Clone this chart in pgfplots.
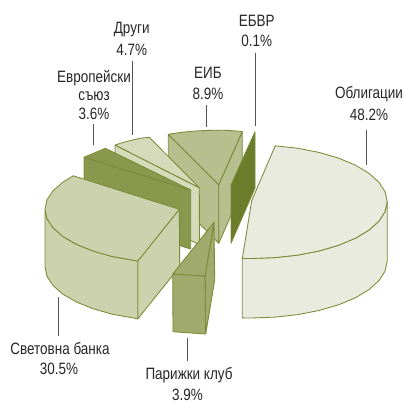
\documentclass[border=0pt]{standalone}
\usepackage{fontspec}
\setmainfont[FakeStretch=0.82]{Liberation Sans}
\usepackage{pgfplots}
\pgfplotsset{compat=1.18}
\definecolor{edge}{HTML}{7A8A35}
\definecolor{bonds}{HTML}{E9EBDF}
\definecolor{world}{HTML}{CCD2AE}
\definecolor{eu}{HTML}{8A984E}
\definecolor{other}{HTML}{D5DABB}
\definecolor{eib}{HTML}{B7BF8F}
\definecolor{paris}{HTML}{A0AA6C}
\definecolor{ebrd}{HTML}{6B7D2A}
\definecolor{leader}{HTML}{555555}
\pgfplotsset{
 face/.style={draw=edge,line width=0.85bp,line join=round,fill=#1,mark=none},
 lead/.style={draw=leader,line width=0.9bp,mark=none},
}
\newcommand{\lab}[3]{\node[font=\fontsize{16.5}{18}\selectfont,text=black!85,inner sep=0pt] at (axis cs:#1,#2) {#3};}
\begin{document}
\begin{tikzpicture}
\begin{axis}[scale only axis,width=404bp,height=403bp,xmin=0,xmax=404,ymin=0,ymax=403,y dir=reverse,hide axis,clip=false]
% keeps the page at the full frame
\addplot[draw=none,mark=none] coordinates {(0,0)(404,403)};
% leader lines
\addplot[lead] coordinates {(255.7,53)(255.7,126)};
\addplot[lead] coordinates {(206.7,105)(206.7,127)};
\addplot[lead] coordinates {(132.3,61)(132.3,135)};
\addplot[lead] coordinates {(93.3,124)(93.3,145)};
\addplot[lead] coordinates {(58.3,297)(58.3,336)};
\addplot[lead] coordinates {(187,338)(187,361)};
\addplot[lead] coordinates {(366.7,130)(366.7,165)};
% EIB
\addplot[face=eib] coordinates {(168.3,134.3)(218.7,184.7)(218.7,243.3)(168.3,192)(168.3,134.3)};
\addplot[face=eib] coordinates {(218.7,184.7)(242.3,131.7)(242.3,190)(218.7,243.3)(218.7,184.7)};
\addplot[face=eib] coordinates {(168.3,134.3)(178.7,132.7)(188.7,131.6)(198.7,130.8)(208.7,130.4)(218.7,130.2)(228.7,130.4)(242.3,131.5)(218.7,184.7)(168.3,134.3)};
% EBRD blade
\addplot[face=ebrd] coordinates {(255,131.7)(231,185)(231,243.3)(255,188)(255,131.7)};
% others
\addplot[face=other] coordinates {(115,145)(199.3,187.7)(199.5,244.5)(190.7,240.5)(115,200)(115,145)};
\addplot[face=other] coordinates {(115,145)(124.3,142.1)(132.3,140.1)(141.3,138.1)(149.3,137.3)(199.3,187.7)(115,145)};
% EU
\addplot[face=eu] coordinates {(84,157.3)(190.7,190)(190.7,249)(84,216)(84,157.3)};
\addplot[face=eu] coordinates {(84,157.3)(105.3,148.3)(190.7,190)(84,157.3)};
% World Bank
\addplot[face=world] coordinates {(179.3,209.3)(179.7,266.7)(137.7,319)(137.7,261)(179.3,209.3)};
\addplot[face=world] coordinates {(45,209.3)(47,218.8)(53.1,227.9)(63,236.55)(76.4,244.3)(93,251)(112.15,256.5)(137.8,261.1)(137.8,318.8)(112.15,314.2)(93,308.7)(76.4,302)(63,294.25)(53.1,285.6)(47,276.5)(45,267)(45,209.3)};
\addplot[face=world] coordinates {(73.3,175.8)(179.3,209.3)(137.8,261.1)(112.15,256.5)(93,251)(76.4,244.3)(63,236.55)(53.1,227.9)(47,218.8)(45,209.3)(47,199.8)(53.1,190.7)(63,182.05)(73.3,175.8)};
% bonds
\addplot[face=bonds] coordinates {(242.3,258.4)(251.7,258.5)(275.2,257.6)(298,255.1)(319.45,250.9)(338.8,245.2)(355.5,238.2)(369,230.1)(379,221.1)(385.1,211.6)(387.2,201.7)(387.2,261.2)(385.1,271.1)(379,280.6)(369,289.6)(355.5,297.7)(338.8,304.7)(319.45,310.4)(298,314.6)(275.2,317.1)(251.7,318)(242.3,317.9)(242.3,258.4)};
\addplot[face=bonds] coordinates {(275.2,145.8)(298,148.3)(319.45,152.5)(338.8,158.2)(355.5,165.2)(369,173.3)(379,182.3)(385.1,191.8)(387.2,201.7)(385.1,211.6)(379,221.1)(369,230.1)(355.5,238.2)(338.8,245.2)(319.45,250.9)(298,255.1)(275.2,257.6)(251.7,258.5)(242.3,258.4)(251.7,200.7)(275.2,145.8)};
% Paris club
\addplot[face=paris] coordinates {(205,276)(214,222.3)(214.7,280)(205.7,334)(205,276)};
\addplot[face=paris] coordinates {(172.7,274)(205,276)(205.7,334)(173,331.7)(172.7,274)};
\addplot[face=paris] coordinates {(172.7,274)(214,222.3)(205,276)(172.7,274)};
% labels
\lab{256.7}{21}{ЕБВР}
\lab{256.7}{41}{0.1\%}
\lab{208}{72.7}{ЕИБ}
\lab{208}{94.3}{8.9\%}
\lab{131.7}{30}{Други}
\lab{131.7}{50}{4.7\%}
\lab{94}{78}{Европейски}
\lab{94}{96}{съюз}
\lab{94}{114}{3.6\%}
\lab{60}{348.3}{Световна банка}
\lab{59}{369}{30.5\%}
\lab{189}{375}{Парижки клуб}
\lab{187.5}{395}{3.9\%}
\lab{369}{94}{Облигации}
\lab{369}{115}{48.2\%}
\end{axis}
\end{tikzpicture}
\end{document}
